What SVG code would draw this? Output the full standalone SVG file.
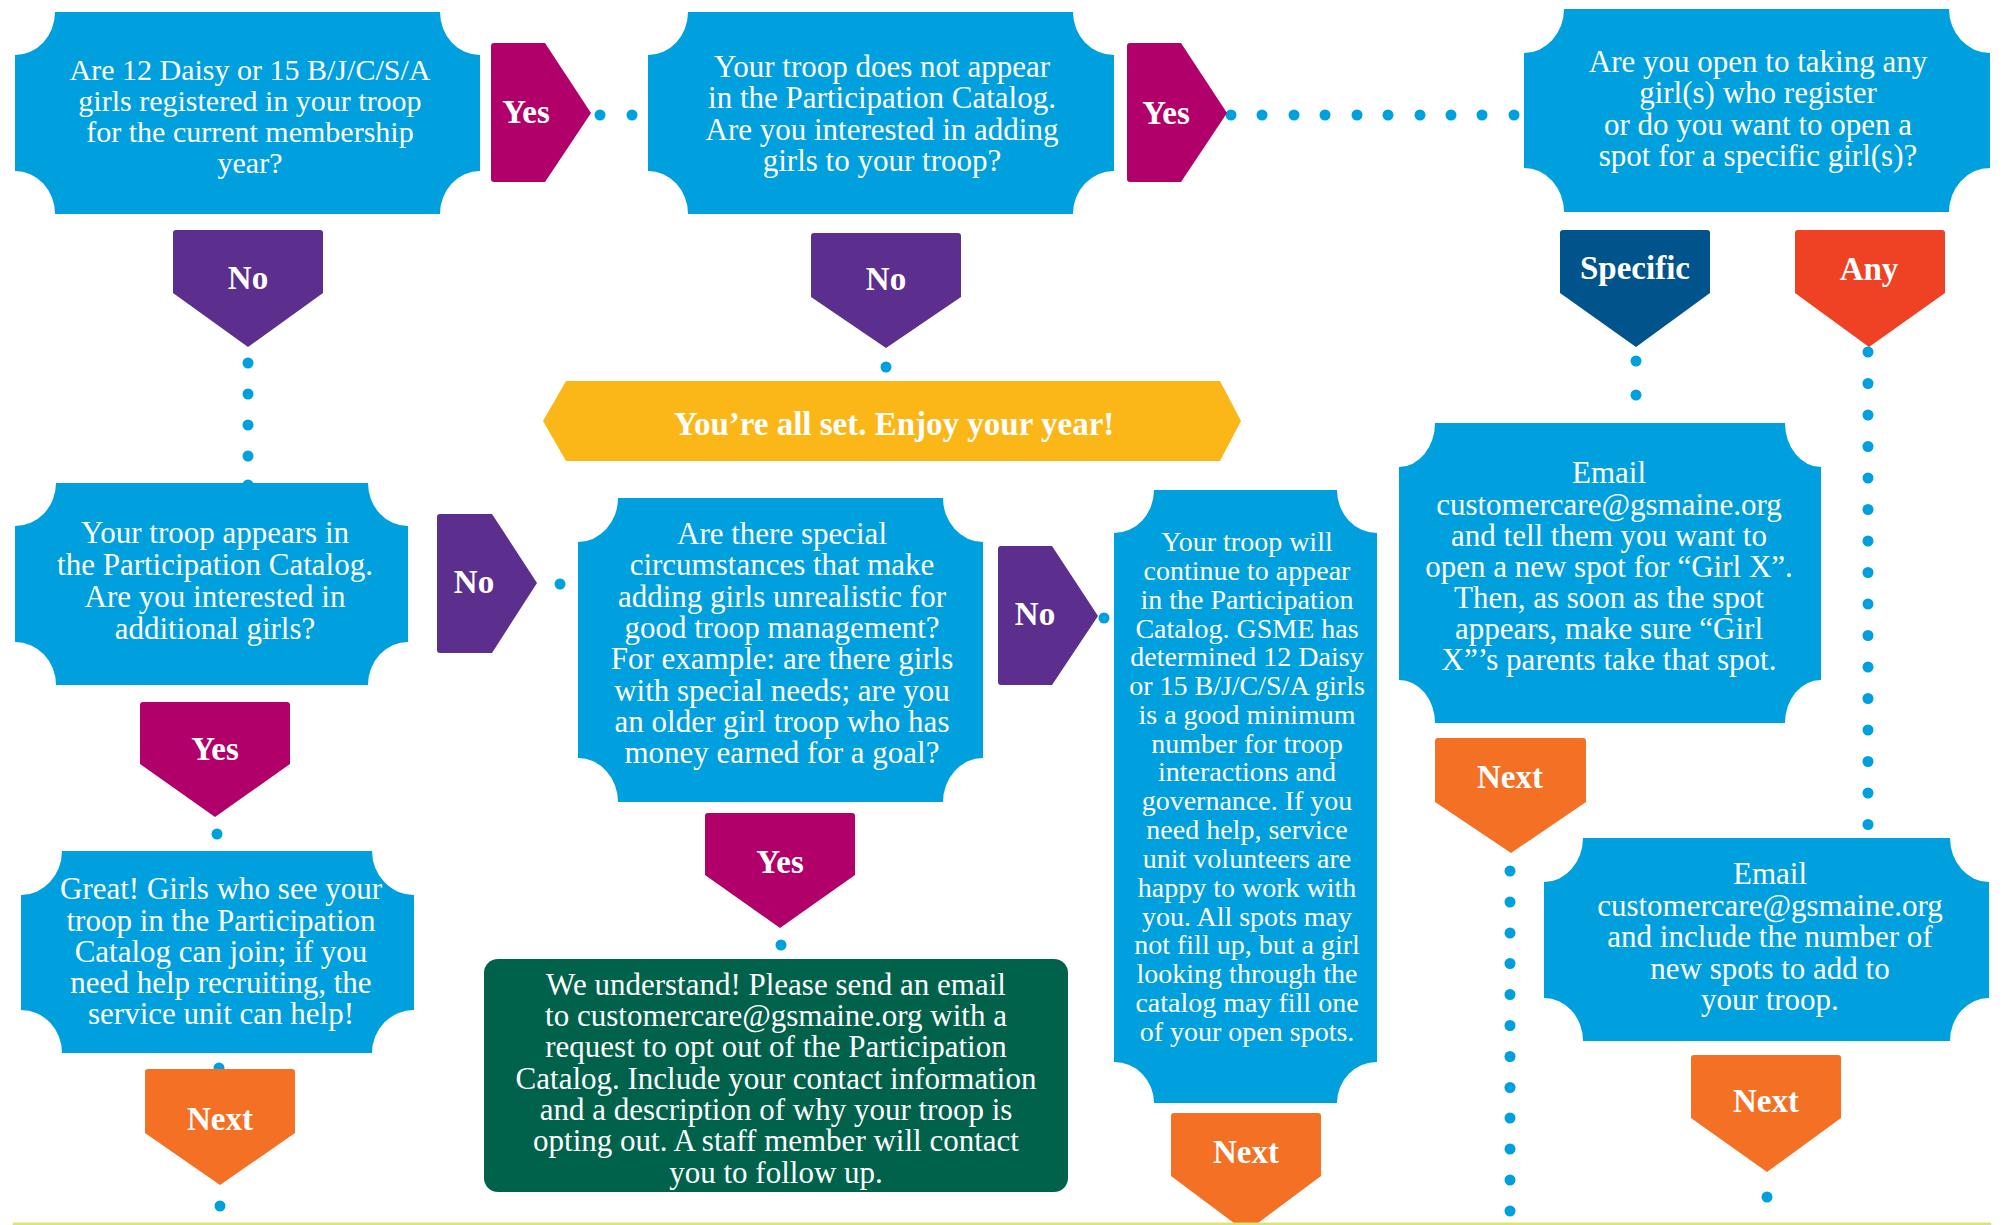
<svg xmlns="http://www.w3.org/2000/svg" width="2007" height="1225" viewBox="0 0 2007 1225">
<style>
.box{fill:#00A0DF}
.t{font-family:"Liberation Serif","Times New Roman",serif;fill:#fff;text-anchor:middle;font-size:31px}
.lb{font-family:"Liberation Serif","Times New Roman",serif;fill:#fff;text-anchor:middle;font-size:33px;font-weight:bold}
.dot{fill:#00A0DF}
.mag{fill:#B1006A}
.pur{fill:#5C2E8E}
.nav{fill:#00548B}
.red{fill:#EF4123}
.org{fill:#F37025}
</style>
<rect x="0" y="0" width="2007" height="1225" fill="#fff"/>
<g id="connectors">
<circle class="dot" cx="600" cy="115" r="5.5"/><circle class="dot" cx="632" cy="115" r="5.5"/>
<circle class="dot" cx="1231" cy="115" r="5.5"/><circle class="dot" cx="1262" cy="115" r="5.5"/><circle class="dot" cx="1294" cy="115" r="5.5"/><circle class="dot" cx="1325" cy="115" r="5.5"/><circle class="dot" cx="1357" cy="115" r="5.5"/><circle class="dot" cx="1388" cy="115" r="5.5"/><circle class="dot" cx="1420" cy="115" r="5.5"/><circle class="dot" cx="1451" cy="115" r="5.5"/><circle class="dot" cx="1482" cy="115" r="5.5"/><circle class="dot" cx="1514" cy="115" r="5.5"/>
<circle class="dot" cx="248" cy="363" r="5.5"/><circle class="dot" cx="248" cy="394" r="5.5"/><circle class="dot" cx="248" cy="425" r="5.5"/><circle class="dot" cx="248" cy="456" r="5.5"/><circle class="dot" cx="248" cy="485" r="5.5"/>
<circle class="dot" cx="886" cy="367" r="5.5"/>
<circle class="dot" cx="560" cy="584" r="5.5"/>
<circle class="dot" cx="1104" cy="618" r="5.5"/>
<circle class="dot" cx="217" cy="834" r="5.5"/>
<circle class="dot" cx="219" cy="1068" r="5.5"/>
<circle class="dot" cx="220" cy="1206" r="5.5"/>
<circle class="dot" cx="781" cy="945" r="5.5"/>
<circle class="dot" cx="1636" cy="361" r="5.5"/><circle class="dot" cx="1636" cy="395" r="5.5"/>
<circle class="dot" cx="1868" cy="352" r="5.5"/><circle class="dot" cx="1868" cy="383.5" r="5.5"/><circle class="dot" cx="1868" cy="415" r="5.5"/><circle class="dot" cx="1868" cy="446.5" r="5.5"/><circle class="dot" cx="1868" cy="478" r="5.5"/><circle class="dot" cx="1868" cy="509.5" r="5.5"/><circle class="dot" cx="1868" cy="541" r="5.5"/><circle class="dot" cx="1868" cy="572.5" r="5.5"/><circle class="dot" cx="1868" cy="604" r="5.5"/><circle class="dot" cx="1868" cy="635.5" r="5.5"/><circle class="dot" cx="1868" cy="667" r="5.5"/><circle class="dot" cx="1868" cy="698.5" r="5.5"/><circle class="dot" cx="1868" cy="730" r="5.5"/><circle class="dot" cx="1868" cy="761.5" r="5.5"/><circle class="dot" cx="1868" cy="793" r="5.5"/><circle class="dot" cx="1868" cy="824.5" r="5.5"/>
<circle class="dot" cx="1510" cy="871" r="5.5"/><circle class="dot" cx="1510" cy="902" r="5.5"/><circle class="dot" cx="1510" cy="933" r="5.5"/><circle class="dot" cx="1510" cy="963.5" r="5.5"/><circle class="dot" cx="1510" cy="994.5" r="5.5"/><circle class="dot" cx="1510" cy="1025.5" r="5.5"/><circle class="dot" cx="1510" cy="1056.5" r="5.5"/><circle class="dot" cx="1510" cy="1087.5" r="5.5"/><circle class="dot" cx="1510" cy="1118" r="5.5"/><circle class="dot" cx="1510" cy="1149" r="5.5"/><circle class="dot" cx="1510" cy="1180" r="5.5"/><circle class="dot" cx="1510" cy="1211" r="5.5"/>
<circle class="dot" cx="1767" cy="1197" r="5.5"/>
</g>
<g id="q1">
<path class="box" d="M55,12 H440 A40,43 0 0 0 480,55 V171 A40,43 0 0 0 440,214 H55 A40,43 0 0 0 15,171 V55 A40,43 0 0 0 55,12 Z"/>
<text class="t" style="font-size:30px"><tspan x="250" y="80">Are 12 Daisy or 15 B/J/C/S/A</tspan><tspan x="250" y="111">girls registered in your troop</tspan><tspan x="250" y="142">for the current membership</tspan><tspan x="250" y="173">year?</tspan></text>
</g>
<g id="yes1">
<path class="mag" d="M494,43 H545 L591,113 L545,182 H494 Q491,182 491,179 V46 Q491,43 494,43 Z"/>
<text class="lb" x="526" y="123">Yes</text>
</g>
<g id="q2">
<path class="box" d="M688,12 H1073 A41,43 0 0 0 1114,55 V171 A41,43 0 0 0 1073,214 H688 A40,43 0 0 0 648,171 V55 A40,43 0 0 0 688,12 Z"/>
<text class="t"><tspan x="882" y="77">Your troop does not appear</tspan><tspan x="882" y="108">in the Participation Catalog.</tspan><tspan x="882" y="140">Are you interested in adding</tspan><tspan x="882" y="171">girls to your troop?</tspan></text>
</g>
<g id="yes2">
<path class="mag" d="M1130,43 H1181 L1227,113 L1181,182 H1130 Q1127,182 1127,179 V46 Q1127,43 1130,43 Z"/>
<text class="lb" x="1166" y="124">Yes</text>
</g>
<g id="q3">
<path class="box" d="M1564,9 H1949 A41,44 0 0 0 1990,53 V168 A41,44 0 0 0 1949,212 H1564 A40,44 0 0 0 1524,168 V53 A40,44 0 0 0 1564,9 Z"/>
<text class="t"><tspan x="1758" y="72">Are you open to taking any</tspan><tspan x="1758" y="103">girl(s) who register</tspan><tspan x="1758" y="135">or do you want to open a</tspan><tspan x="1758" y="166">spot for a specific girl(s)?</tspan></text>
</g>
<g id="no1">
<path class="pur" d="M176,230 H320 Q323,230 323,233 V293 L248,347 L173,293 V233 Q173,230 176,230 Z"/>
<text class="lb" x="248" y="289">No</text>
</g>
<g id="no2">
<path class="pur" d="M814,233 H958 Q961,233 961,236 V297 L886,348 L811,297 V236 Q811,233 814,233 Z"/>
<text class="lb" x="886" y="290">No</text>
</g>
<g id="specific">
<path class="nav" d="M1563,230 H1707 Q1710,230 1710,233 V293 L1636,347 L1560,293 V233 Q1560,230 1563,230 Z"/>
<text class="lb" x="1635" y="279">Specific</text>
</g>
<g id="any">
<path class="red" d="M1798,230 H1942 Q1945,230 1945,233 V293 L1869,347 L1795,293 V233 Q1795,230 1798,230 Z"/>
<text class="lb" x="1869" y="280">Any</text>
</g>
<g id="done">
<path fill="#FBB718" d="M566,381 H1220 L1241,421 L1220,461 H566 L543,421 Z"/>
<text class="lb" x="894" y="435">You’re all set. Enjoy your year!</text>
</g>
<g id="q4">
<path class="box" d="M56,483 H368 A40,43 0 0 0 408,526 V642 A40,43 0 0 0 368,685 H56 A41,43 0 0 0 15,642 V526 A41,43 0 0 0 56,483 Z"/>
<text class="t"><tspan x="215" y="543">Your troop appears in</tspan><tspan x="215" y="575">the Participation Catalog.</tspan><tspan x="215" y="607">Are you interested in</tspan><tspan x="215" y="639">additional girls?</tspan></text>
</g>
<g id="no3">
<path class="pur" d="M440,514 H492 L537,583 L492,653 H440 Q437,653 437,650 V517 Q437,514 440,514 Z"/>
<text class="lb" x="474" y="593">No</text>
</g>
<g id="q5">
<path class="box" d="M618,498 H943 A40,44 0 0 0 983,542 V758 A40,44 0 0 0 943,802 H618 A40,44 0 0 0 578,758 V542 A40,44 0 0 0 618,498 Z"/>
<text class="t"><tspan x="782" y="544">Are there special</tspan><tspan x="782" y="575">circumstances that make</tspan><tspan x="782" y="607">adding girls unrealistic for</tspan><tspan x="782" y="638">good troop management?</tspan><tspan x="782" y="669">For example: are there girls</tspan><tspan x="782" y="701">with special needs; are you</tspan><tspan x="782" y="732">an older girl troop who has</tspan><tspan x="782" y="763">money earned for a goal?</tspan></text>
</g>
<g id="no4">
<path class="pur" d="M1001,546 H1052 L1098,616 L1052,685 H1001 Q998,685 998,682 V549 Q998,546 1001,546 Z"/>
<text class="lb" x="1035" y="625">No</text>
</g>
<g id="stay">
<path class="box" d="M1154,490 H1337 A40,43 0 0 0 1377,533 V1062 A40,41 0 0 0 1337,1103 H1154 A40,41 0 0 0 1114,1062 V533 A40,43 0 0 0 1154,490 Z"/>
<text class="t" style="font-size:28px"><tspan x="1247" y="551">Your troop will</tspan><tspan x="1247" y="580">continue to appear</tspan><tspan x="1247" y="609">in the Participation</tspan><tspan x="1247" y="638">Catalog. GSME has</tspan><tspan x="1247" y="666">determined 12 Daisy</tspan><tspan x="1247" y="695">or 15 B/J/C/S/A girls</tspan><tspan x="1247" y="724">is a good minimum</tspan><tspan x="1247" y="753">number for troop</tspan><tspan x="1247" y="781">interactions and</tspan><tspan x="1247" y="810">governance. If you</tspan><tspan x="1247" y="839">need help, service</tspan><tspan x="1247" y="868">unit volunteers are</tspan><tspan x="1247" y="897">happy to work with</tspan><tspan x="1247" y="926">you. All spots may</tspan><tspan x="1247" y="954">not fill up, but a girl</tspan><tspan x="1247" y="983">looking through the</tspan><tspan x="1247" y="1012">catalog may fill one</tspan><tspan x="1247" y="1041">of your open spots.</tspan></text>
</g>
<g id="girlx">
<path class="box" d="M1435,423 H1785 A36,44 0 0 0 1821,467 V680 A36,43 0 0 0 1785,723 H1435 A36,43 0 0 0 1399,680 V467 A36,44 0 0 0 1435,423 Z"/>
<text class="t"><tspan x="1609" y="483">Email</tspan><tspan x="1609" y="515">customercare@gsmaine.org</tspan><tspan x="1609" y="546">and tell them you want to</tspan><tspan x="1609" y="577">open a new spot for “Girl X”.</tspan><tspan x="1609" y="608">Then, as soon as the spot</tspan><tspan x="1609" y="639">appears, make sure “Girl</tspan><tspan x="1609" y="670">X”’s parents take that spot.</tspan></text>
</g>
<g id="yes3">
<path class="mag" d="M143,702 H287 Q290,702 290,705 V764 L215,817 L140,764 V705 Q140,702 143,702 Z"/>
<text class="lb" x="215" y="760">Yes</text>
</g>
<g id="next1">
<path class="org" d="M1438,738 H1583 Q1586,738 1586,741 V802 L1511,853 L1435,802 V741 Q1435,738 1438,738 Z"/>
<text class="lb" x="1510" y="788">Next</text>
</g>
<g id="yes4">
<path class="mag" d="M708,813 H852 Q855,813 855,816 V875 L780,928 L705,875 V816 Q705,813 708,813 Z"/>
<text class="lb" x="780" y="873">Yes</text>
</g>
<g id="great">
<path class="box" d="M62,851 H372 A42,44 0 0 0 414,895 V1010 A42,43 0 0 0 372,1053 H62 A41,43 0 0 0 21,1010 V895 A41,44 0 0 0 62,851 Z"/>
<text class="t"><tspan x="221" y="899">Great! Girls who see your</tspan><tspan x="221" y="931">troop in the Participation</tspan><tspan x="221" y="962">Catalog can join; if you</tspan><tspan x="221" y="993">need help recruiting, the</tspan><tspan x="221" y="1024">service unit can help!</tspan></text>
</g>
<g id="optout">
<rect x="484" y="959" width="584" height="233" rx="14" fill="#00624B"/>
<text class="t"><tspan x="776" y="995">We understand! Please send an email</tspan><tspan x="776" y="1026">to customercare@gsmaine.org with a</tspan><tspan x="776" y="1057">request to opt out of the Participation</tspan><tspan x="776" y="1089">Catalog. Include your contact information</tspan><tspan x="776" y="1120">and a description of why your troop is</tspan><tspan x="776" y="1151">opting out. A staff member will contact</tspan><tspan x="776" y="1183">you to follow up.</tspan></text>
</g>
<g id="number">
<path class="box" d="M1583,838 H1950 A39,44 0 0 0 1989,882 V998 A39,43 0 0 0 1950,1041 H1583 A39,43 0 0 0 1544,998 V882 A39,44 0 0 0 1583,838 Z"/>
<text class="t"><tspan x="1770" y="884">Email</tspan><tspan x="1770" y="916">customercare@gsmaine.org</tspan><tspan x="1770" y="947">and include the number of</tspan><tspan x="1770" y="979">new spots to add to</tspan><tspan x="1770" y="1010">your troop.</tspan></text>
</g>
<g id="next2">
<path class="org" d="M148,1069 H292 Q295,1069 295,1072 V1133 L220,1185 L145,1133 V1072 Q145,1069 148,1069 Z"/>
<text class="lb" x="220" y="1130">Next</text>
</g>
<g id="next3">
<path class="org" d="M1174,1113 H1318 Q1321,1113 1321,1116 V1176 L1246,1232 L1171,1176 V1116 Q1171,1113 1174,1113 Z"/>
<text class="lb" x="1246" y="1163">Next</text>
</g>
<g id="next4">
<path class="org" d="M1694,1055 H1838 Q1841,1055 1841,1058 V1118 L1767,1172 L1691,1118 V1058 Q1691,1055 1694,1055 Z"/>
<text class="lb" x="1766" y="1112">Next</text>
</g>
<line x1="14" y1="1224" x2="1990" y2="1224" stroke="#DCE477" stroke-width="3" stroke-linecap="round"/>
</svg>
